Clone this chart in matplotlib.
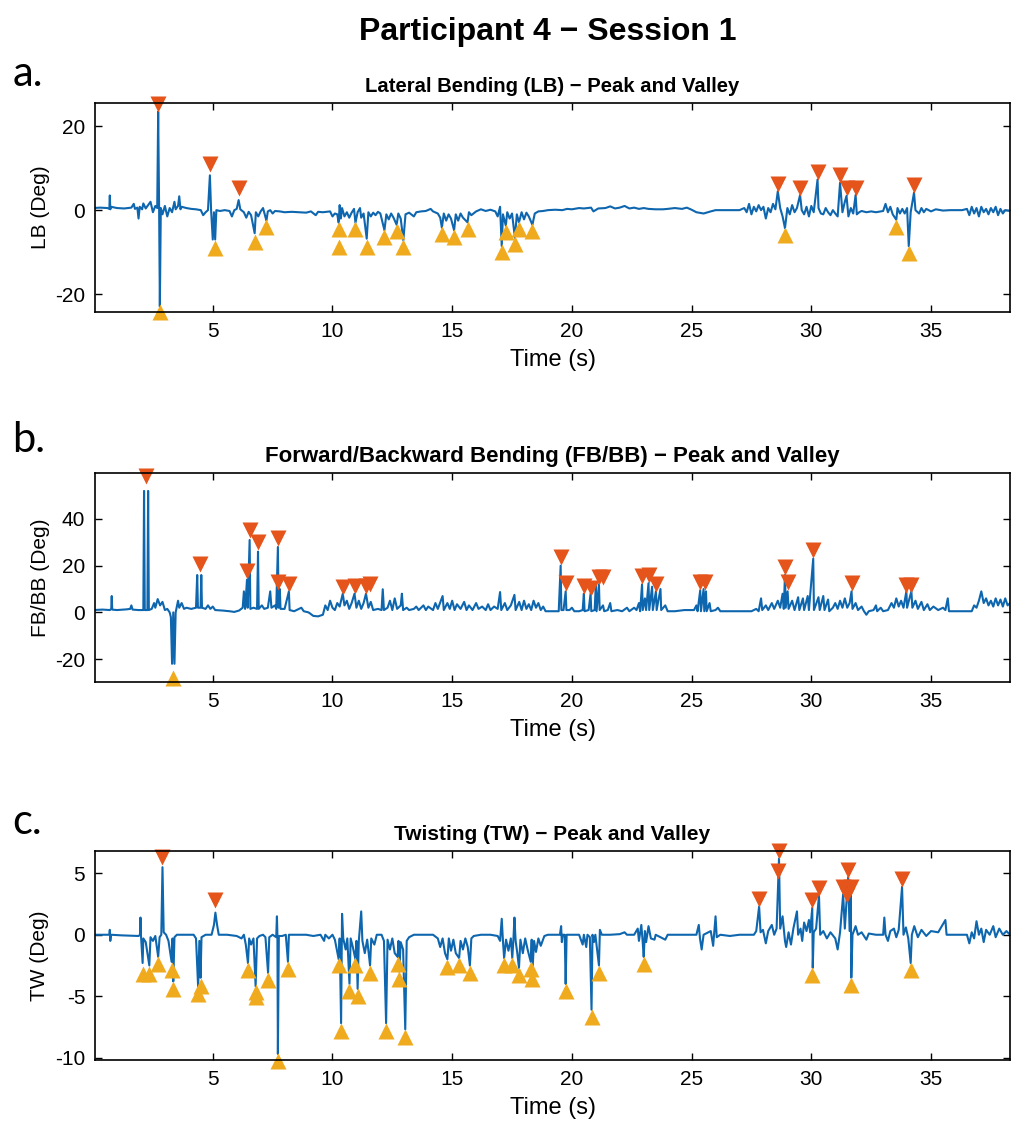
import matplotlib
matplotlib.use("Agg")
import matplotlib.pyplot as plt

plt.rcParams['font.family'] = ['Liberation Sans', 'DejaVu Sans']
plt.rcParams['axes.unicode_minus'] = False

# --- signals: (time s, degrees) ---
lb_sig = [
    (0.0, 0.5), (0.3, 0.6), (0.6, 0.5), (0.68, 0.3), (0.7, 3.5), (0.72, 0.2), (0.75, 0.8), (1.0, 0.5),
    (1.3, 0.4), (1.6, 0.6), (1.7, 1.5), (1.75, 0.3), (1.85, 0.6), (1.9, -2.0), (1.95, 0.8), (2.05, 0.2),
    (2.1, 1.6), (2.2, 0.4), (2.3, 1.2), (2.4, 2.0), (2.5, -0.5), (2.6, 1.0), (2.68, 0.5), (2.72, 23.5),
    (2.76, 0.0), (2.79, -23.0), (2.83, 0.5), (2.9, -1.0), (3.0, 1.0), (3.1, -1.5), (3.2, 0.5), (3.3, -0.5),
    (3.4, 2.0), (3.45, 0.2), (3.55, 1.0), (3.6, 3.3), (3.65, 0.2), (3.7, 0.8), (3.9, 0.5), (4.1, 0.3),
    (4.3, 0.2), (4.5, 0.0), (4.6, -1.2), (4.7, -0.5), (4.8, 0.0), (4.88, 8.3), (4.93, 0.0), (5.0, -7.0),
    (5.05, -0.5), (5.1, -7.0), (5.15, 0.0), (5.3, -0.2), (5.5, 0.0), (5.7, -0.2), (5.8, -1.5), (5.9, 0.0),
    (6.0, 0.3), (6.08, 2.4), (6.15, 0.2), (6.3, -0.5), (6.4, -1.8), (6.5, -0.4), (6.6, -1.2), (6.75, -5.5),
    (6.8, -0.5), (6.9, -1.5), (7.0, -0.3), (7.1, 0.5), (7.24, -2.5), (7.3, -0.3), (7.4, 0.0), (7.5, -0.8),
    (7.6, -0.2), (7.8, -0.3), (8.0, -0.5), (8.3, -0.4), (8.6, -0.5), (8.9, -0.6), (9.1, -0.3), (9.3, -1.2),
    (9.4, -0.4), (9.6, -0.5), (9.9, -0.3), (10.0, -1.5), (10.1, -0.8), (10.2, -1.0), (10.26, -3.0),
    (10.3, 1.2), (10.35, -2.0), (10.4, 0.5), (10.5, -1.5), (10.6, -0.5), (10.7, -1.8), (10.8, -0.6),
    (10.9, 0.3), (10.96, -3.0), (11.05, -0.5), (11.15, 0.5), (11.2, -1.8), (11.3, -0.8), (11.43, -6.8),
    (11.5, -0.5), (11.6, -1.5), (11.7, -0.6), (11.8, -1.2), (11.9, -0.4), (12.0, -0.8), (12.17, -4.8),
    (12.25, -1.0), (12.35, -2.2), (12.45, -0.8), (12.55, -1.8), (12.68, -3.5), (12.75, -0.8), (12.85, -2.0),
    (12.96, -7.2), (13.05, -1.0), (13.2, -0.6), (13.4, -1.5), (13.5, -0.5), (13.7, -0.3), (13.9, -0.2),
    (14.1, 0.3), (14.2, -0.3), (14.4, -0.8), (14.5, -1.8), (14.57, -4.2), (14.65, -0.8), (14.75, -2.5),
    (14.85, -1.0), (14.95, -2.0), (15.08, -4.8), (15.15, -1.0), (15.25, -2.5), (15.35, -0.8), (15.45, -1.8),
    (15.64, -2.9), (15.7, -0.5), (15.8, -1.2), (16.0, -0.3), (16.2, 0.2), (16.4, -0.2), (16.6, 0.1),
    (16.8, -0.3), (16.9, -1.5), (17.0, 0.8), (17.07, -8.6), (17.12, -1.0), (17.24, -3.7), (17.3, -0.5),
    (17.4, -2.0), (17.5, -0.8), (17.62, -6.6), (17.7, -1.0), (17.79, -2.9), (17.9, -0.5), (18.0, -2.2),
    (18.1, -0.6), (18.2, -1.5), (18.35, -3.5), (18.45, -0.8), (18.6, -0.3), (18.8, -0.2), (19.0, 0.0),
    (19.3, 0.1), (19.6, 0.0), (19.8, 0.3), (20.0, 0.2), (20.3, 0.5), (20.5, 0.4), (20.8, 0.6), (20.9, -0.3),
    (21.1, 0.4), (21.4, 0.5), (21.6, 0.9), (21.8, 0.4), (22.0, 0.6), (22.2, 1.0), (22.4, 0.4), (22.6, 0.6),
    (22.8, 0.3), (23.0, 0.5), (23.2, 0.3), (23.5, 0.2), (23.8, 0.2), (24.0, 0.3), (24.3, 0.5), (24.6, 0.3),
    (24.8, 0.6), (25.0, 0.1), (25.2, -0.5), (25.5, -0.8), (25.8, -0.3), (26.0, 0.0), (26.5, 0.0), (27.0, 0.0),
    (27.2, 0.5), (27.3, -0.5), (27.4, 1.5), (27.5, -1.0), (27.6, 0.8), (27.7, -0.3), (27.8, 1.2), (27.9, 0.0),
    (28.0, 0.8), (28.1, -2.0), (28.2, 0.5), (28.3, -0.5), (28.4, 1.5), (28.5, 0.2), (28.6, 4.5), (28.7, 0.5),
    (28.8, -1.5), (28.9, -4.3), (29.0, 0.5), (29.1, -1.0), (29.2, 1.2), (29.3, -0.5), (29.4, 0.5),
    (29.53, 3.6), (29.6, 0.0), (29.7, -1.0), (29.8, 0.8), (29.9, -1.5), (30.0, 1.0), (30.1, -0.5),
    (30.26, 7.3), (30.3, 0.5), (30.4, -0.8), (30.5, -1.0), (30.6, 0.5), (30.7, -0.5), (30.8, -1.2),
    (30.9, 0.0), (31.0, -0.8), (31.1, -1.5), (31.2, 6.5), (31.3, -0.5), (31.4, 2.0), (31.47, 3.4),
    (31.55, -1.5), (31.65, 0.5), (31.75, -0.8), (31.85, 3.6), (31.9, -1.0), (32.0, -0.5), (32.1, -0.2),
    (32.3, -0.5), (32.5, -0.3), (32.7, -0.5), (32.9, -0.3), (33.0, -0.2), (33.1, 1.5), (33.2, -0.5),
    (33.3, 0.8), (33.4, -1.0), (33.55, -2.3), (33.6, 0.5), (33.7, -0.8), (33.8, 0.3), (33.9, -0.8),
    (34.0, 0.5), (34.07, -8.6), (34.15, -0.5), (34.29, 4.2), (34.35, 0.0), (34.5, -0.8), (34.6, 0.5),
    (34.7, -0.5), (34.8, 0.3), (35.0, -0.3), (35.2, 0.2), (35.5, -0.1), (35.8, 0.0), (36.3, 0.0),
    (36.5, 0.3), (36.6, -1.2), (36.7, 0.8), (36.8, -0.8), (36.9, 0.5), (37.0, -1.5), (37.1, 0.8),
    (37.2, -0.5), (37.3, 0.3), (37.4, -1.0), (37.5, 0.5), (37.6, -0.5), (37.7, 0.8), (37.8, -1.2),
    (37.9, 0.3), (38.0, -0.8), (38.1, 0.0), (38.3, -0.2),
]
lb_peak_t = [2.72, 4.88, 6.08, 28.6, 29.53, 30.26, 31.2, 31.47, 31.85, 34.29]
lb_peak_v = [25.4, 11.0, 5.2, 6.3, 5.4, 9.1, 8.3, 5.2, 5.4, 6.0]
lb_valley_t = [2.79, 5.08, 6.75, 7.24, 10.26, 10.26, 10.96, 11.43, 12.17, 12.68, 12.96, 14.57, 15.08,
               15.64, 17.07, 17.24, 17.62, 17.79, 18.35, 28.9, 33.55, 34.07]
lb_valley_v = [-24.2, -9.0, -7.5, -4.0, -4.4, -8.7, -4.4, -8.7, -6.3, -5.0, -8.9, -5.7, -6.3,
               -4.4, -10.1, -5.2, -8.1, -4.4, -5.0, -6.0, -4.0, -10.3]

fb_sig = [
    (0.0, 1.0), (0.4, 1.2), (0.7, 1.0), (0.76, 1.5), (0.78, 7.0), (0.8, 1.2), (1.0, 1.0), (1.4, 1.3),
    (1.55, 1.5), (1.6, 3.0), (1.65, 1.2), (1.9, 1.0), (2.1, 1.0), (2.13, 52.0), (2.16, 1.0), (2.27, 1.0),
    (2.3, 52.0), (2.33, 1.0), (2.45, 1.5), (2.55, 4.0), (2.6, 2.0), (2.7, 5.7), (2.8, 3.0), (2.9, 4.5),
    (3.0, 1.0), (3.1, 1.5), (3.2, 0.0), (3.25, -2.0), (3.3, -22.0), (3.35, 0.0), (3.4, -22.0), (3.45, 0.0),
    (3.55, 5.0), (3.6, 2.0), (3.7, 4.0), (3.8, 1.5), (3.9, 2.0), (4.1, 1.5), (4.3, 2.0), (4.35, 16.0),
    (4.38, 2.0), (4.49, 2.0), (4.52, 16.0), (4.55, 2.0), (4.7, 1.5), (4.8, 3.0), (4.9, 1.5), (5.0, 2.5),
    (5.1, 1.0), (5.4, 0.8), (5.7, 0.5), (5.9, 0.2), (6.1, 0.8), (6.25, 2.0), (6.3, 9.0), (6.35, 1.5),
    (6.43, 14.0), (6.46, 2.0), (6.54, 31.0), (6.57, 1.5), (6.7, 2.0), (6.85, 1.5), (6.89, 26.0),
    (6.92, 1.5), (7.05, 3.0), (7.15, 1.5), (7.3, 2.0), (7.4, 9.0), (7.45, 2.0), (7.6, 3.0), (7.65, 1.5),
    (7.72, 28.0), (7.75, 2.0), (7.8, 10.0), (7.83, 1.5), (8.0, 1.5), (8.18, 9.0), (8.21, 1.0), (8.4, 0.5),
    (8.6, 1.5), (8.7, 2.0), (8.8, 0.5), (9.0, 0.0), (9.2, -1.5), (9.4, -1.7), (9.6, -1.0), (9.7, 3.0),
    (9.8, 1.0), (9.9, 5.0), (10.0, 2.0), (10.1, 1.0), (10.2, 4.0), (10.3, 2.5), (10.43, 8.0), (10.5, 3.0),
    (10.6, 5.0), (10.7, 1.5), (10.8, 4.0), (10.92, 8.0), (11.0, 2.0), (11.1, 5.0), (11.2, 1.5),
    (11.3, 4.0), (11.4, 8.0), (11.5, 2.0), (11.6, 4.5), (11.7, 1.0), (11.9, 1.5), (12.05, 1.0),
    (12.1, 9.9), (12.15, 1.0), (12.3, 2.0), (12.4, 5.0), (12.5, 1.0), (12.6, 6.0), (12.7, 1.5),
    (12.85, 3.0), (12.9, 8.0), (12.95, 1.0), (13.1, 2.0), (13.2, 1.0), (13.4, 1.5), (13.5, 2.5),
    (13.6, 1.0), (13.8, 3.0), (13.9, 1.0), (14.0, 2.5), (14.2, 1.0), (14.3, 4.0), (14.4, 1.5),
    (14.6, 7.0), (14.65, 1.0), (14.8, 4.0), (14.9, 1.5), (15.0, 5.0), (15.1, 1.0), (15.2, 3.5),
    (15.35, 1.5), (15.5, 4.5), (15.6, 1.0), (15.7, 3.0), (15.85, 1.0), (16.0, 4.0), (16.1, 1.5),
    (16.25, 2.5), (16.4, 1.0), (16.5, 3.5), (16.6, 1.0), (16.75, 2.5), (16.9, 1.5), (17.0, 8.7),
    (17.05, 1.0), (17.2, 4.0), (17.3, 1.0), (17.45, 3.0), (17.6, 7.5), (17.65, 1.0), (17.8, 4.5),
    (17.9, 1.0), (18.0, 5.0), (18.1, 1.5), (18.2, 3.5), (18.3, 1.0), (18.4, 5.0), (18.5, 2.0),
    (18.6, 4.0), (18.7, 1.0), (18.8, 2.5), (18.9, 0.5), (19.2, 0.5), (19.45, 0.5), (19.53, 20.0),
    (19.56, 1.0), (19.65, 1.0), (19.74, 9.0), (19.77, 1.0), (19.9, 1.0), (20.0, 2.0), (20.1, 0.5),
    (20.3, 0.5), (20.45, 1.0), (20.5, 8.0), (20.53, 0.5), (20.7, 1.0), (20.78, 8.0), (20.81, 0.5),
    (20.95, 1.0), (21.0, 12.0), (21.03, 0.5), (21.13, 12.0), (21.16, 1.0), (21.3, 3.0), (21.35, 0.5),
    (21.5, 1.0), (21.6, 4.0), (21.65, 0.5), (21.9, 1.0), (22.1, 0.5), (22.3, 2.0), (22.4, 0.5),
    (22.6, 2.0), (22.7, 1.0), (22.8, 4.0), (22.85, 0.5), (22.93, 12.0), (22.96, 1.0), (23.05, 6.0),
    (23.1, 1.0), (23.2, 12.5), (23.23, 1.0), (23.35, 11.0), (23.38, 1.0), (23.51, 9.0), (23.54, 1.0),
    (23.7, 10.0), (23.73, 1.0), (23.9, 3.0), (24.0, 0.5), (24.3, 0.5), (24.7, 1.0), (25.1, 1.0),
    (25.2, 3.0), (25.25, 0.5), (25.36, 9.5), (25.39, 0.5), (25.5, 10.0), (25.53, 0.5), (25.6, 9.0),
    (25.63, 0.5), (25.75, 4.0), (25.8, 0.5), (26.0, 1.0), (26.1, 2.0), (26.2, 0.5), (26.5, 0.5),
    (27.0, 0.5), (27.5, 0.5), (27.7, 1.5), (27.8, 0.5), (27.9, 6.0), (27.95, 1.0), (28.1, 3.0),
    (28.2, 1.0), (28.35, 4.0), (28.45, 1.5), (28.6, 5.0), (28.7, 2.0), (28.8, 8.0), (28.85, 1.5),
    (28.9, 16.0), (28.93, 2.0), (29.01, 9.0), (29.05, 1.5), (29.2, 5.0), (29.3, 1.0), (29.45, 6.5),
    (29.5, 1.0), (29.65, 6.0), (29.7, 1.0), (29.85, 7.0), (29.9, 1.0), (30.08, 23.0), (30.11, 1.0),
    (30.3, 6.5), (30.35, 1.0), (30.5, 7.0), (30.55, 1.0), (30.7, 5.5), (30.75, 0.5), (30.9, 2.0),
    (31.0, 4.0), (31.1, 1.5), (31.2, 5.0), (31.3, 2.0), (31.4, 6.0), (31.5, 2.0), (31.6, 4.0),
    (31.68, 9.0), (31.72, 1.5), (31.85, 4.0), (31.95, 1.0), (32.1, 2.5), (32.2, 0.5), (32.3, -1.0),
    (32.4, 0.5), (32.6, 1.0), (32.7, 3.0), (32.75, 0.5), (32.9, 2.0), (33.0, 0.5), (33.2, 1.0),
    (33.35, 4.0), (33.45, 2.0), (33.55, 6.0), (33.65, 2.5), (33.75, 5.0), (33.85, 2.0), (33.97, 9.0),
    (34.0, 2.0), (34.1, 6.0), (34.18, 9.0), (34.22, 2.0), (34.35, 5.0), (34.45, 1.5), (34.6, 4.5),
    (34.7, 1.0), (34.85, 3.5), (34.95, 1.0), (35.1, 2.5), (35.3, 1.0), (35.5, 2.0), (35.6, 1.0),
    (35.7, 6.0), (35.75, 0.5), (36.0, 0.5), (36.4, 0.5), (36.7, 0.5), (36.8, 3.0), (36.9, 2.0),
    (37.0, 5.0), (37.1, 9.0), (37.2, 4.0), (37.3, 6.0), (37.4, 3.0), (37.5, 5.0), (37.6, 2.5),
    (37.7, 6.0), (37.8, 3.0), (37.9, 5.5), (38.0, 2.5), (38.1, 6.0), (38.2, 3.0), (38.3, 4.0),
]
fb_peak_t = [2.21, 4.46, 6.43, 6.54, 6.89, 7.72, 7.72, 8.18, 10.43, 10.92, 11.4, 11.55,
             19.53, 19.74, 20.5, 20.78, 21.13, 21.3, 22.93, 23.2, 23.51, 25.36, 25.57,
             28.9, 29.01, 30.08, 31.68, 33.97, 34.18]
fb_peak_v = [58.3, 20.7, 17.6, 35.2, 30.3, 31.8, 12.9, 12.2, 10.8, 11.5, 11.5, 12.0,
             23.8, 12.5, 11.5, 10.6, 15.0, 15.0, 15.7, 16.0, 12.2, 12.9, 12.9,
             19.3, 12.9, 26.7, 12.5, 11.9, 11.9]
fb_valley_t = [3.35]
fb_valley_v = [-28.0]

tw_sig = [
    (0.0, 0.0), (0.5, 0.0), (0.68, 0.0), (0.7, 0.4), (0.72, -0.5), (0.75, 0.0), (1.2, -0.05), (1.9, -0.1),
    (1.96, 0.0), (1.98, 1.4), (2.0, 0.0), (2.07, -2.3), (2.1, -0.3), (2.2, -0.6), (2.35, -2.5), (2.4, -0.2),
    (2.5, -0.5), (2.6, -0.1), (2.72, -1.8), (2.78, -0.2), (2.85, 0.0), (2.9, 5.5), (2.95, 0.2), (3.05, 0.0),
    (3.15, -0.5), (3.28, -2.2), (3.32, -0.3), (3.35, -3.8), (3.4, -0.2), (3.5, 0.0), (3.8, 0.0),
    (4.2, 0.0), (4.3, -0.3), (4.39, -4.3), (4.44, -0.5), (4.49, -3.5), (4.53, -0.2), (4.7, 0.0),
    (4.95, 0.0), (5.05, 0.8), (5.11, 1.8), (5.18, 0.8), (5.25, 0.0), (5.6, 0.0), (6.0, -0.1), (6.2, -0.3),
    (6.3, 0.0), (6.38, -0.8), (6.47, -2.3), (6.52, -0.3), (6.6, -0.8), (6.7, -0.3), (6.79, -4.2),
    (6.85, -0.3), (6.95, -0.1), (7.1, 0.0), (7.2, -0.2), (7.31, -3.1), (7.36, -0.2), (7.5, 0.0),
    (7.65, -0.2), (7.68, 1.5), (7.7, 0.0), (7.72, -9.7), (7.76, -0.1), (7.9, -0.1), (8.05, 0.0),
    (8.14, -2.2), (8.18, 0.0), (8.5, 0.0), (8.9, 0.0), (9.2, -0.1), (9.5, 0.0), (9.65, -0.5),
    (9.7, 0.0), (9.85, -0.3), (10.0, 0.0), (10.1, -0.4), (10.26, -2.0), (10.3, -0.3), (10.36, -7.2),
    (10.4, 1.7), (10.45, -0.3), (10.55, -1.2), (10.62, -0.3), (10.71, -4.0), (10.76, -0.3),
    (10.85, -1.0), (10.96, -2.0), (11.0, -0.5), (11.05, -4.4), (11.1, -0.5), (11.2, 1.9),
    (11.25, -0.5), (11.35, -1.5), (11.45, -0.4), (11.57, -2.5), (11.62, -0.3), (11.75, -0.8),
    (11.85, 0.0), (12.05, 0.0), (12.15, -0.5), (12.24, -7.2), (12.3, -0.4), (12.4, -1.2), (12.5, -0.3),
    (12.6, -1.5), (12.72, -1.8), (12.76, -0.5), (12.79, -3.0), (12.85, -0.6), (12.95, -1.2),
    (13.04, -7.7), (13.1, -0.5), (13.2, -0.2), (13.4, 0.0), (13.8, 0.0), (14.2, 0.0), (14.4, -0.3),
    (14.5, -1.0), (14.6, -0.3), (14.7, -1.5), (14.8, -2.0), (14.86, -0.3), (14.95, -1.3), (15.05, -0.4),
    (15.15, -1.5), (15.29, -1.9), (15.35, -0.5), (15.45, -1.2), (15.55, -0.3), (15.65, -1.0),
    (15.74, -2.5), (15.8, -0.3), (15.9, -0.1), (16.2, 0.0), (16.6, 0.0), (16.9, -0.1), (17.0, -0.5),
    (17.07, 1.3), (17.12, -0.5), (17.17, -1.9), (17.25, -0.4), (17.35, -1.3), (17.45, -0.3),
    (17.51, -1.9), (17.56, -0.3), (17.6, 1.4), (17.65, -0.5), (17.72, -1.5), (17.79, -2.7),
    (17.85, -0.4), (17.95, -1.5), (18.05, -0.3), (18.15, -1.2), (18.28, -2.2), (18.32, -0.4),
    (18.35, -3.0), (18.42, -0.5), (18.5, -1.4), (18.6, -0.3), (18.7, -0.9), (18.85, -0.1),
    (19.0, 0.0), (19.3, 0.0), (19.5, 0.0), (19.55, 0.7), (19.58, -0.6), (19.62, 0.0), (19.7, 0.0),
    (19.74, -4.0), (19.78, 0.0), (20.0, 0.0), (20.3, 0.0), (20.45, -0.8), (20.5, 0.0), (20.6, -1.0),
    (20.65, 0.0), (20.75, -0.2), (20.82, -6.1), (20.86, 0.0), (20.92, -0.6), (20.98, 0.0),
    (21.13, -2.5), (21.17, 0.4), (21.25, 0.0), (21.6, 0.0), (22.0, 0.05), (22.2, 0.2), (22.3, 0.0),
    (22.6, 0.0), (22.75, 0.5), (22.8, -0.5), (22.9, 0.8), (22.95, -0.4), (23.0, -1.8), (23.05, 0.3),
    (23.1, -0.6), (23.2, 0.7), (23.3, -0.3), (23.45, -0.4), (23.5, 0.0), (23.7, -0.2), (23.9, -0.4),
    (24.0, 0.0), (24.5, 0.0), (25.0, 0.0), (25.2, 0.0), (25.3, 0.8), (25.35, -0.3), (25.42, -1.2),
    (25.5, 0.0), (25.8, 0.3), (25.9, -0.9), (26.0, 1.5), (26.05, -0.2), (26.2, 0.0), (26.6, -0.1),
    (27.0, 0.0), (27.6, 0.0), (27.7, 0.3), (27.82, 2.3), (27.88, 0.2), (27.98, 0.4), (28.1, -0.7),
    (28.2, 0.3), (28.35, 0.8), (28.45, 0.0), (28.55, 0.5), (28.65, 6.2), (28.7, 0.5), (28.8, 1.5),
    (28.9, -0.5), (28.95, -1.0), (29.05, 0.2), (29.15, -0.8), (29.25, 0.5), (29.4, 1.9), (29.45, 0.0),
    (29.55, 0.5), (29.62, -0.5), (29.7, 1.0), (29.8, 0.3), (29.9, 1.2), (29.95, 0.2), (30.04, 2.2),
    (30.06, -2.7), (30.1, 0.2), (30.2, 0.5), (30.32, 3.2), (30.37, 0.0), (30.5, 0.3), (30.65, -0.3),
    (30.8, 0.2), (31.0, -0.3), (31.1, -1.2), (31.2, 0.2), (31.33, 3.3), (31.4, 0.5), (31.47, 2.7),
    (31.54, 4.7), (31.6, 0.3), (31.65, 3.3), (31.67, -3.5), (31.72, 0.0), (31.85, 0.7), (31.95, 0.0),
    (32.1, 0.2), (32.3, -0.4), (32.4, 0.1), (32.7, 0.0), (33.0, 0.0), (33.05, 1.4), (33.1, 0.0),
    (33.2, -0.5), (33.3, 0.3), (33.45, 0.5), (33.55, -0.2), (33.65, 0.4), (33.79, 3.9), (33.85, 0.0),
    (33.95, 0.6), (34.05, -0.3), (34.15, -2.3), (34.2, 0.0), (34.3, 0.7), (34.45, -0.2), (34.6, 0.4),
    (34.8, -0.1), (35.0, 0.3), (35.3, 0.2), (35.6, 1.2), (35.65, 0.0), (36.0, 0.0), (36.5, 0.0),
    (36.6, -0.7), (36.7, 0.2), (36.8, -0.3), (36.9, 1.1), (37.0, 0.0), (37.1, 0.5), (37.2, -0.6),
    (37.3, 0.4), (37.45, 0.0), (37.6, 0.7), (37.7, -0.2), (37.85, 0.5), (38.0, 0.0), (38.15, 0.3),
    (38.3, 0.0),
]
tw_peak_t = [2.9, 5.11, 27.82, 28.6, 28.65, 30.04, 30.32, 31.33, 31.47, 31.54, 31.65, 33.79]
tw_peak_v = [6.3, 2.8, 2.9, 5.2, 6.8, 2.8, 3.8, 3.9, 3.2, 5.3, 3.9, 4.5]
tw_valley_t = [2.07, 2.35, 2.72, 3.28, 3.35, 4.39, 4.49, 6.47, 6.79, 6.82, 7.31, 7.72, 8.14,
               10.26, 10.36, 10.71, 10.96, 11.05, 11.57, 12.24, 12.72, 12.79, 13.04,
               14.8, 15.29, 15.74, 17.17, 17.51, 17.79, 18.28, 18.35,
               19.74, 20.82, 21.13, 23.0, 30.04, 31.65, 34.15]
tw_valley_v = [-3.2, -3.2, -2.4, -2.9, -4.4, -4.8, -4.2, -2.9, -4.7, -5.1, -3.7, -10.3, -2.8,
               -2.5, -7.8, -4.6, -2.5, -5.0, -3.1, -7.8, -2.4, -3.6, -8.3,
               -2.6, -2.5, -3.1, -2.5, -2.5, -3.3, -2.8, -3.6,
               -4.6, -6.7, -3.1, -2.4, -3.3, -4.1, -2.9]

panels = [
    ("a.", "Lateral Bending (LB) \u2212 Peak and Valley", "LB (Deg)", lb_sig,
     lb_peak_t, lb_peak_v, lb_valley_t, lb_valley_v, (-24.3, 25.5), [-20, 0, 20]),
    ("b.", "Forward/Backward Bending (FB/BB) \u2212 Peak and Valley", "FB/BB (Deg)", fb_sig,
     fb_peak_t, fb_peak_v, fb_valley_t, fb_valley_v, (-29.8, 59.6), [-20, 0, 20, 40]),
    ("c.", "Twisting (TW) \u2212 Peak and Valley", "TW (Deg)", tw_sig,
     tw_peak_t, tw_peak_v, tw_valley_t, tw_valley_v, (-10.2, 6.8), [-10, -5, 0, 5]),
]

fig = plt.figure(figsize=(10.19, 11.38), dpi=100)
fig.text(0.538, 0.972, "Participant 4 \u2212 Session 1", ha='center', va='center',
         fontsize=23, fontweight='bold')

# axes boxes in figure fractions (bottom of each panel)
bottoms = [0.7258, 0.4007, 0.0685]
letter_y = [0.935, 0.613, 0.278]
title_sizes = [14.6, 16, 15]

for i, (letter, title, ylab, sig, pk_t, pk_v, vl_t, vl_v, ylim, yt) in enumerate(panels):
    ax = fig.add_axes([0.0932, bottoms[i], 0.898, 0.1835])
    t = [p[0] for p in sig]
    v = [p[1] for p in sig]
    ax.plot(t, v, color='#0E66AE', lw=1.5)
    ax.plot(pk_t, pk_v, 'v', color='#E4541B', ms=12, mec='none', clip_on=False)
    ax.plot(vl_t, vl_v, '^', color='#F0AA1E', ms=12, mec='none', clip_on=False)
    ax.set_xlim(0.08, 38.3)
    ax.set_ylim(*ylim)
    ax.set_xticks([5, 10, 15, 20, 25, 30, 35])
    ax.set_yticks(yt)
    ax.tick_params(direction='in', top=True, right=True, length=5, width=1,
                   labelsize=15, pad=7)
    for s in ax.spines.values():
        s.set_linewidth(1.2)
    ax.set_title(title, fontsize=title_sizes[i], fontweight='bold', pad=8)
    ax.set_ylabel(ylab, fontsize=15, labelpad=4)
    ax.set_xlabel("Time (s)", fontsize=17, labelpad=6)
    fig.text(0.012, letter_y[i], letter, fontsize=30, family=['Lato', 'DejaVu Sans'],
             ha='left', va='center')

fig.savefig("out.png", dpi=100)
